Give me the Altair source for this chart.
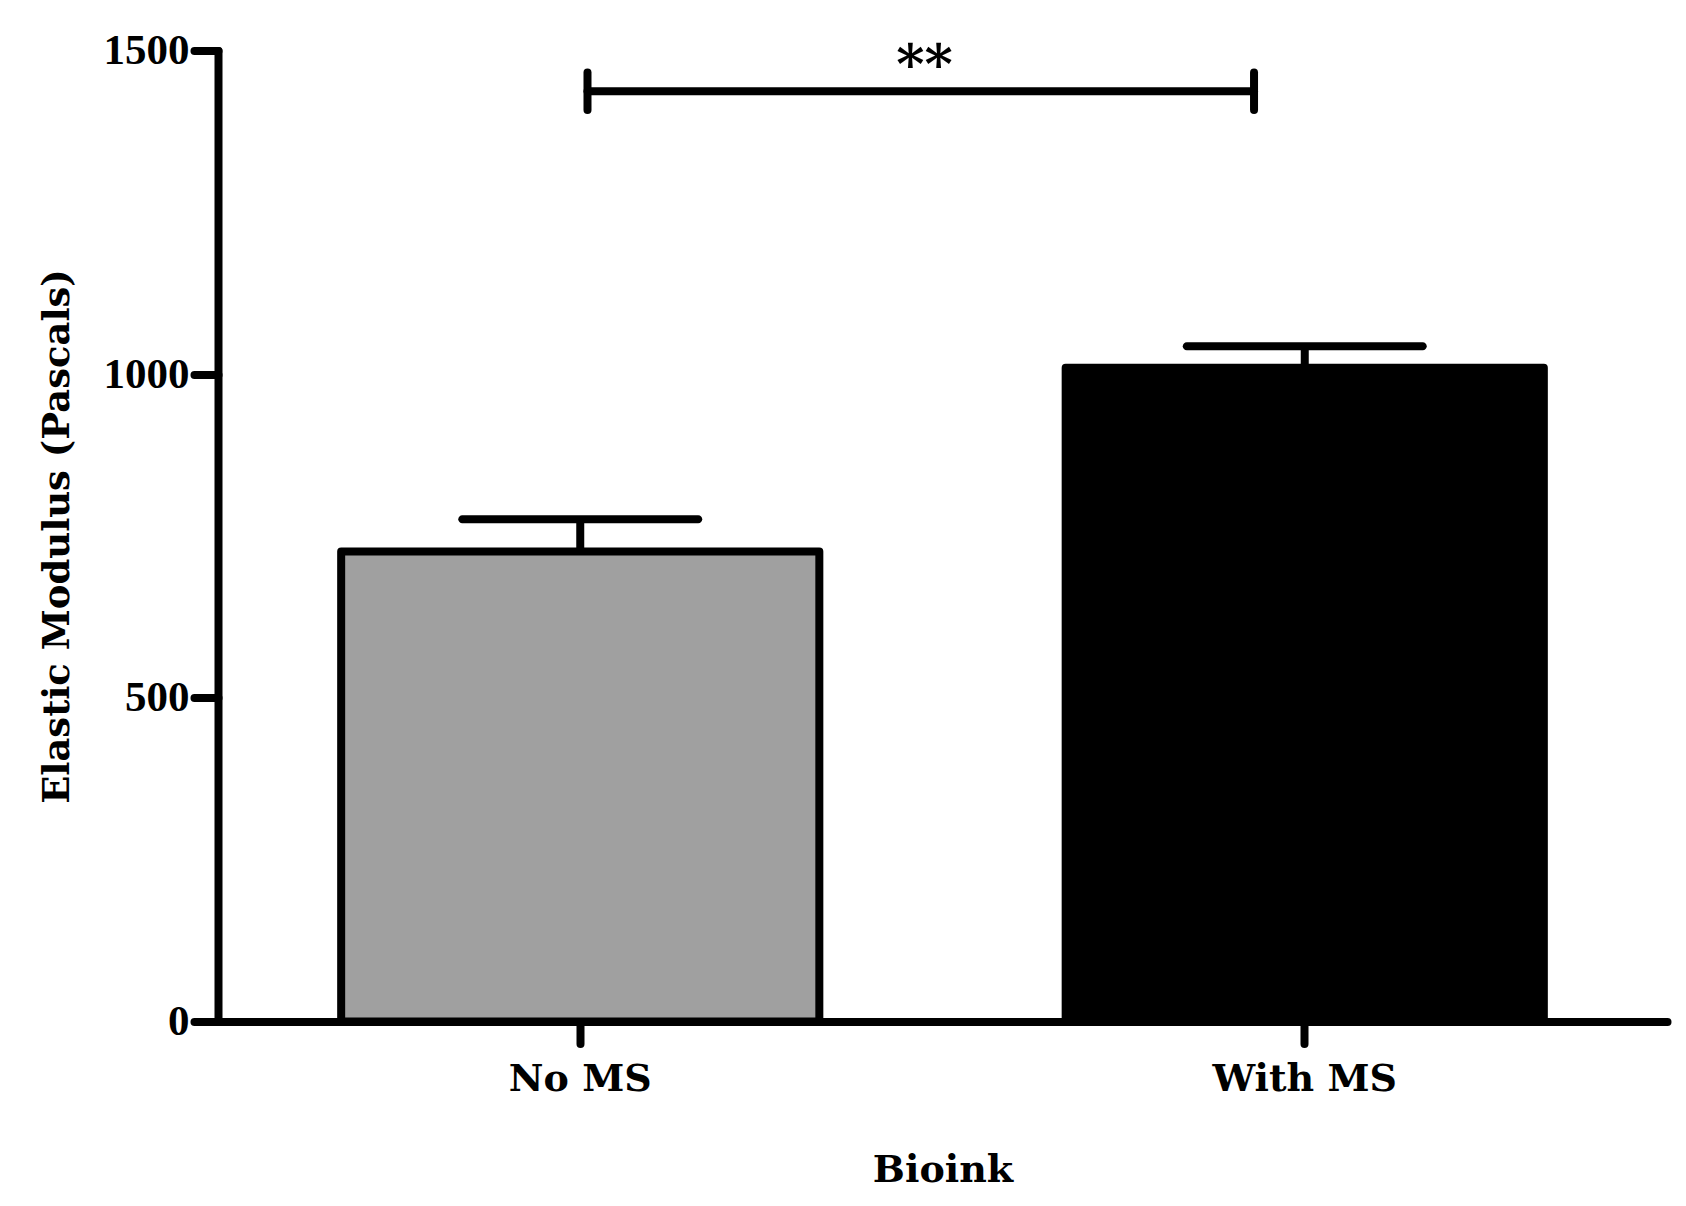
import altair as alt
import pandas as pd

# ---- data ----
categories = ["No MS", "With MS"]
means = [726, 1010]
upper = [776, 1043]
fills = ["#a0a0a0", "#000000"]

sig_x = [0.51, 1.43]          # bracket ends, in category-axis units (0..2)
sig_y = [1437, 1437]
sig_cap_lo = [1408, 1408]
sig_cap_hi = [1466, 1466]
sig_label = ["**"]
sig_label_x = [0.975]
sig_label_y = [1450]

y_ticks = [0, 500, 1000, 1500]

df = pd.DataFrame({"cat": categories, "mean": means, "upper": upper, "fill": fills})
sig_df = pd.DataFrame({"x": [sig_x[0]], "x2": [sig_x[1]], "y": [sig_y[0]]})
cap_df = pd.DataFrame({"x": sig_x, "y": sig_cap_lo, "y2": sig_cap_hi})
lab_df = pd.DataFrame({"x": sig_label_x, "y": sig_label_y, "t": sig_label})

W, H = 1449, 971
YT = "Elastic Modulus (Pascals)"
XT = "Bioink"

xcat = alt.X(
    "cat:N", sort=categories, title=XT,
    scale=alt.Scale(paddingInner=0.34, paddingOuter=0.17),
    axis=alt.Axis(labelAngle=0, tickSize=22, labelPadding=47, labelBaseline="alphabetic",
                  labelLimit=0,
                  labelFont="DejaVu Serif", labelFontWeight="bold", labelFontSize=38,
                  titleFont="DejaVu Serif", titleFontWeight="bold", titleFontSize=38,
                  titleY=159.5, titleBaseline="alphabetic"),
)
yscale = alt.Scale(domain=[0, 1500], nice=False, zero=True)
yaxis = alt.Axis(values=y_ticks, format="d", tickSize=24, labelPadding=5,
                 labelFont="Liberation Serif", labelFontWeight="bold", labelFontSize=43,
                 labelBaseline="middle",
                 titleFont="DejaVu Serif", titleFontWeight="bold", titleFontSize=37,
                 titleAngle=-90, titleX=-150, titleY=485.5, titleAlign="center",
                 titleBaseline="alphabetic")

bars = alt.Chart(df).mark_bar(stroke="black", strokeWidth=8, strokeJoin="round").encode(
    x=xcat,
    y=alt.Y("mean:Q", title=YT, scale=yscale, axis=yaxis),
    fill=alt.Fill("fill:N", scale=None),
)
err = alt.Chart(df).mark_rule(strokeWidth=8, color="black").encode(
    x=alt.X("cat:N", sort=categories, title=XT),
    y=alt.Y("mean:Q", title=YT),
    y2="upper:Q",
)
caps = alt.Chart(df).mark_tick(orient="horizontal", size=244, thickness=8, color="black",
                               opacity=1, cornerRadius=4).encode(
    x=alt.X("cat:N", sort=categories, title=XT),
    y=alt.Y("upper:Q", title=YT),
)
inner = alt.layer(bars, err, caps)

xq = alt.Scale(domain=[0, 2], nice=False, zero=False)
sig_line = alt.Chart(sig_df).mark_rule(strokeWidth=8, color="black", strokeCap="round").encode(
    x=alt.X("x:Q", scale=xq, axis=None),
    x2="x2:Q",
    y=alt.Y("y:Q", title=YT),
)
sig_caps = alt.Chart(cap_df).mark_rule(strokeWidth=8, color="black", strokeCap="round").encode(
    x=alt.X("x:Q", scale=xq, axis=None),
    y=alt.Y("y:Q", title=YT),
    y2="y2:Q",
)
sig_text = alt.Chart(lab_df).mark_text(font="DejaVu Serif", fontWeight="bold", fontSize=54,
                                       baseline="alphabetic", align="center", color="black").encode(
    x=alt.X("x:Q", scale=xq, axis=None),
    y=alt.Y("y:Q", title=YT),
    text="t:N",
)
outer = alt.layer(sig_line, sig_caps, sig_text)

chart = alt.layer(inner, outer).resolve_scale(x="independent").properties(
    width=W, height=H,
    autosize="none",
    padding={"left": 210, "top": 42.5, "right": 10, "bottom": 170},
    background="white",
).configure_view(stroke=None).configure_axis(
    grid=False, domainColor="black", domainWidth=8, domainCap="round",
    tickColor="black", tickWidth=8, tickCap="round",
    labelColor="black", titleColor="black",
)

chart.save("out.html", embed_options={"renderer": "svg", "actions": False})
